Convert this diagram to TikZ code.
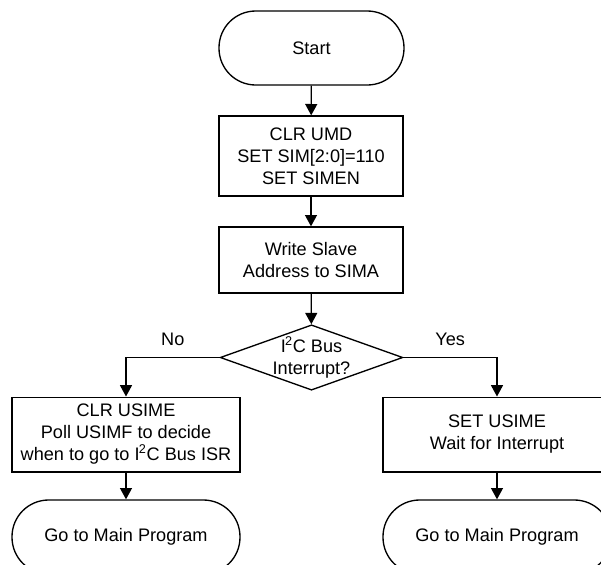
\documentclass[tikz,border=0pt]{standalone}
\usepackage{fontspec}
\setmainfont{Liberation Sans}
\usepackage{tikz}
\usetikzlibrary{shapes, arrows.meta, positioning}

\begin{document}
\begin{tikzpicture}[
  x=0.75pt, y=-0.75pt,
  every node/.style={font=\fontsize{13.6}{16.5}\selectfont},
  term/.style={draw, line width=1pt, rounded corners=27.5pt, minimum height=55.5pt, align=center, inner sep=0pt},
  proc/.style={draw, line width=1pt, minimum width=138pt, align=center, inner sep=0pt},
  dec/.style={draw, line width=1pt, diamond, aspect=2.8, minimum width=137pt, minimum height=49pt, align=center, inner sep=-4pt},
  arr/.style={-{Triangle[length=8.5pt, width=9pt]}, line width=1pt}
]
  \clip (0,0) rectangle (601,565);
  \node[term, minimum width=138.75pt] (start) at (311.5,48) {Start};
  \node[proc, minimum height=60pt] (init) at (311,156) {CLR UMD\\SET SIM[2:0]=110\\SET SIMEN};
  \node[proc, minimum height=49.5pt] (addr) at (311,260) {Write Slave\\Address to SIMA};
  \node[dec] (intr) at (311.5,357.5) {I\kern-0.5pt\textsuperscript{2}C Bus\\Interrupt?};
  \node[proc, minimum width=171pt, minimum height=56pt] (poll) at (126,434.5) {CLR USIME\\Poll USIMF to decide\\when to go to I\kern-0.5pt\textsuperscript{2}C Bus ISR};
  \node[proc, minimum width=171pt, minimum height=56pt] (wait) at (497,434.5) {SET USIME\\Wait for Interrupt};
  \node[term, minimum width=171pt] (endl) at (126,537) {Go to Main Program};
  \node[term, minimum width=171pt] (endr) at (497,537) {Go to Main Program};

  \draw[arr] (start) -- (init);
  \draw[arr] (init) -- (addr);
  \draw[arr] (addr) -- (intr);
  \draw[arr] (intr.west) -| node[pos=0.25, above=5pt] (no) {No} (poll);
  \draw[arr] (intr.east) -| node[pos=0.25, above=5pt] (yes) {Yes} (wait);
  \draw[arr] (poll) -- (endl);
  \draw[arr] (wait) -- (endr);
\end{tikzpicture}
\end{document}
